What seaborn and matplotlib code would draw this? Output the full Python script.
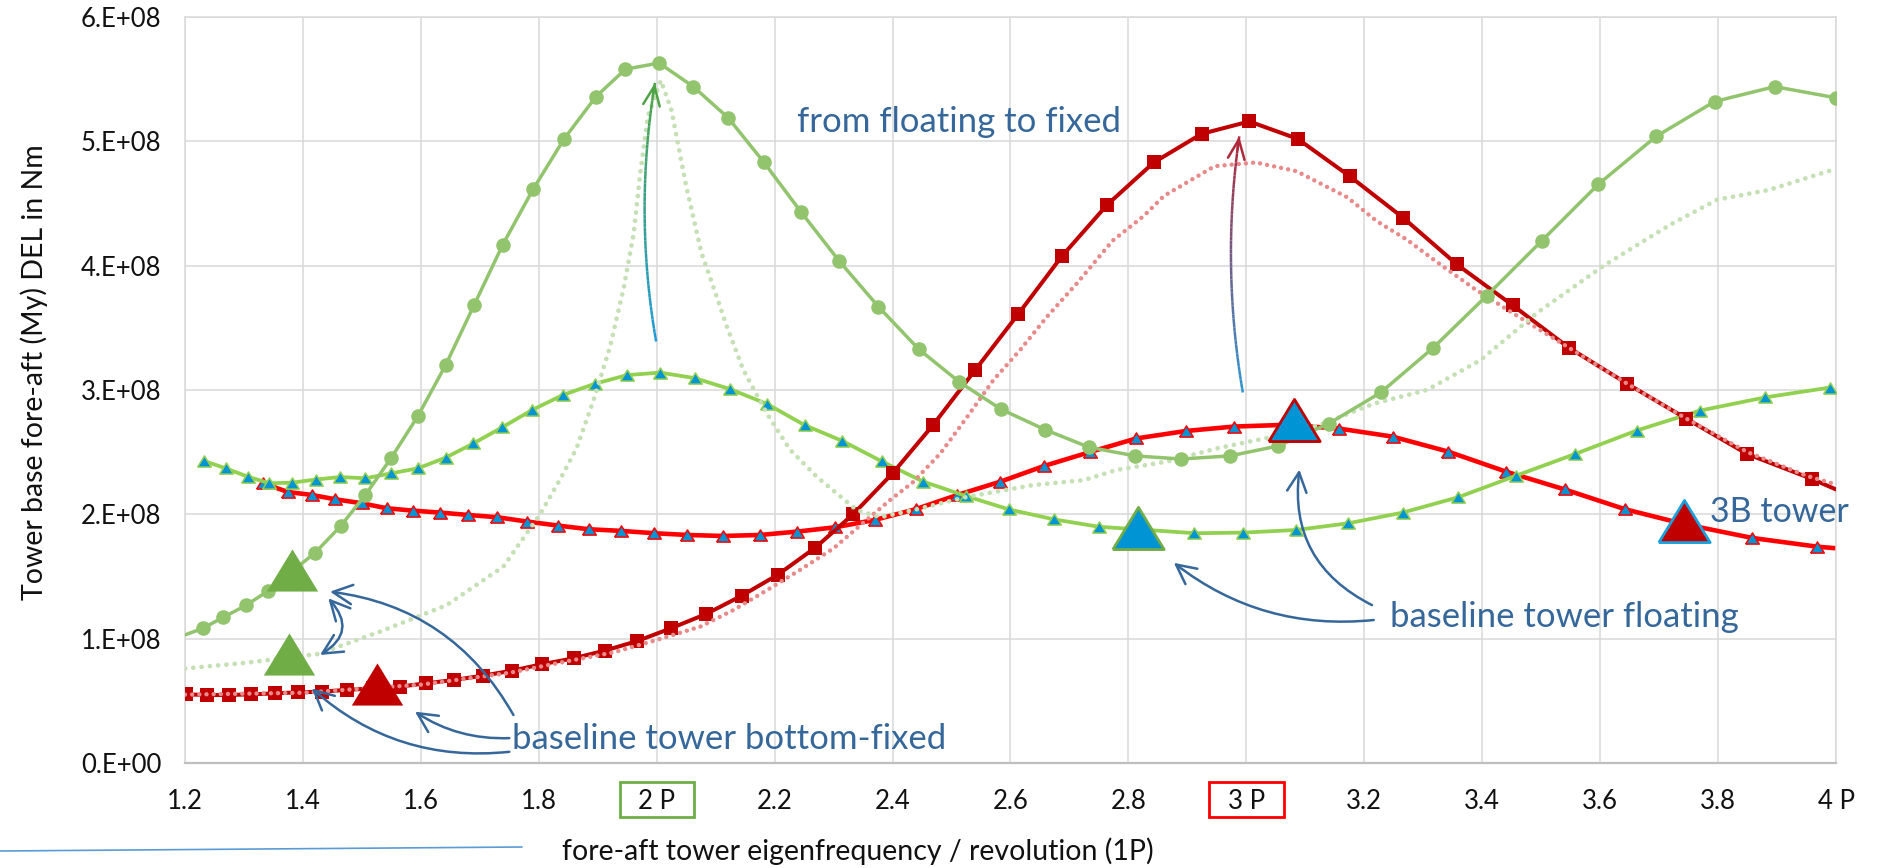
import numpy as np
import matplotlib
matplotlib.use("Agg")
import matplotlib.pyplot as plt
import seaborn as sns
from matplotlib.patches import Rectangle
from matplotlib.collections import LineCollection
from matplotlib.lines import Line2D
import matplotlib.transforms as mtransforms
from matplotlib.colors import to_rgb

# ---------------- data (DEL values in units of 1e8 Nm) ----------------
green_fixed_x = [1.2, 1.230, 1.265, 1.303, 1.341, 1.381, 1.421, 1.464, 1.506, 1.550, 1.595, 1.642,
                 1.690, 1.739, 1.791, 1.843, 1.897, 1.947, 2.004, 2.062, 2.121, 2.182, 2.245, 2.309,
                 2.376, 2.444, 2.513, 2.584, 2.659, 2.733, 2.811, 2.890, 2.972, 3.054, 3.140, 3.228,
                 3.317, 3.408, 3.501, 3.597, 3.695, 3.794, 3.896, 4.0]
green_fixed_y = [1.03, 1.083, 1.172, 1.267, 1.384, 1.54, 1.692, 1.906, 2.156, 2.456, 2.79, 3.20,
                 3.68, 4.17, 4.62, 5.02, 5.36, 5.58, 5.63, 5.44, 5.19, 4.83, 4.43, 4.04,
                 3.67, 3.33, 3.065, 2.845, 2.68, 2.54, 2.47, 2.445, 2.47, 2.55, 2.73, 2.98,
                 3.34, 3.76, 4.20, 4.655, 5.04, 5.32, 5.44, 5.35]

green_float_x = [1.2, 1.305, 1.426, 1.531, 1.644, 1.74, 1.802, 1.836, 1.864, 1.893, 1.921, 1.944,
                 1.961, 1.972, 1.985, 2.007, 2.025, 2.05, 2.076, 2.096, 2.119, 2.147, 2.187, 2.226,
                 2.272, 2.339, 2.379, 2.436, 2.526, 2.639, 2.724, 2.78, 2.865, 2.95, 3.04, 3.125,
                 3.216, 3.306, 3.397, 3.493, 3.606, 3.719, 3.798, 3.887, 4.0]
green_float_y = [0.76, 0.807, 0.877, 1.057, 1.27, 1.58, 2.0, 2.28, 2.53, 2.92, 3.35, 3.82,
                 4.26, 4.74, 5.2, 5.49, 5.25, 4.64, 4.10, 3.83, 3.51, 3.16, 2.81, 2.52,
                 2.30, 2.035, 1.977, 2.035, 2.14, 2.236, 2.275, 2.357, 2.424, 2.53, 2.62, 2.72,
                 2.89, 3.0, 3.24, 3.62, 4.0, 4.33, 4.53, 4.61, 4.78]

green_tri_x = [1.232, 1.269, 1.306, 1.343, 1.382, 1.422, 1.463, 1.506, 1.550, 1.595, 1.642, 1.689,
               1.738, 1.789, 1.841, 1.895, 1.950, 2.006, 2.065, 2.125, 2.187, 2.251, 2.315, 2.382,
               2.452, 2.524, 2.597, 2.673, 2.750, 2.83, 2.912, 2.995, 3.084, 3.173, 3.265, 3.359,
               3.457, 3.558, 3.662, 3.769, 3.879, 3.99]
green_tri_y = [2.43, 2.37, 2.304, 2.25, 2.255, 2.28, 2.30, 2.29, 2.33, 2.37, 2.456, 2.57,
               2.70, 2.84, 2.96, 3.05, 3.12, 3.14, 3.095, 3.006, 2.888, 2.717, 2.59, 2.425,
               2.263, 2.148, 2.04, 1.96, 1.90, 1.875, 1.848, 1.853, 1.874, 1.928, 2.014, 2.137,
               2.31, 2.486, 2.674, 2.834, 2.94, 3.02]

red_fixed_x = [1.202, 1.238, 1.275, 1.312, 1.352, 1.391, 1.432, 1.474, 1.518, 1.564, 1.609, 1.656,
               1.705, 1.755, 1.805, 1.859, 1.912, 1.967, 2.024, 2.084, 2.144, 2.205, 2.269, 2.333,
               2.400, 2.469, 2.540, 2.613, 2.687, 2.764, 2.843, 2.924, 3.005, 3.087, 3.175, 3.266,
               3.357, 3.452, 3.547, 3.646, 3.746, 3.849, 3.959, 4.0]
red_fixed_y = [0.552, 0.547, 0.547, 0.552, 0.560, 0.568, 0.574, 0.588, 0.60, 0.614, 0.641, 0.668,
               0.702, 0.743, 0.794, 0.842, 0.904, 0.981, 1.083, 1.199, 1.345, 1.513, 1.732, 2.00,
               2.33, 2.72, 3.16, 3.61, 4.075, 4.49, 4.83, 5.06, 5.16, 5.02, 4.72, 4.385,
               4.01, 3.68, 3.34, 3.05, 2.77, 2.486, 2.285, 2.20]

red_float_x = [1.2, 1.4, 1.6, 1.75, 1.85, 1.927, 2.0, 2.074, 2.130, 2.187, 2.243, 2.30, 2.356,
               2.396, 2.435, 2.481, 2.526, 2.571, 2.616, 2.662, 2.713, 2.773, 2.826, 2.86, 2.946,
               3.016, 3.085, 3.171, 3.222, 3.272, 3.323, 3.385, 3.448, 3.547, 3.646, 3.746, 3.85,
               3.95, 4.0]
red_float_y = [0.55, 0.565, 0.63, 0.725, 0.82, 0.89, 0.99, 1.097, 1.23, 1.39, 1.553, 1.727, 1.955,
               2.116, 2.26, 2.49, 2.78, 3.08, 3.32, 3.59, 3.86, 4.20, 4.40, 4.56, 4.80,
               4.83, 4.76, 4.55, 4.355, 4.21, 4.03, 3.82, 3.63, 3.34, 3.05, 2.77, 2.5,
               2.31, 2.24]

red_tri_x = [1.333, 1.374, 1.415, 1.455, 1.500, 1.542, 1.586, 1.633, 1.680, 1.729, 1.780, 1.832,
             1.885, 1.939, 1.996, 2.052, 2.112, 2.175, 2.238, 2.303, 2.370, 2.439, 2.510, 2.583,
             2.657, 2.734, 2.813, 2.897, 2.979, 3.068, 3.157, 3.248, 3.342, 3.440, 3.540, 3.643,
             3.744, 3.858, 3.968, 4.0]
red_tri_y = [2.25, 2.18, 2.156, 2.121, 2.089, 2.049, 2.03, 2.014, 1.995, 1.977, 1.942, 1.91,
             1.88, 1.867, 1.848, 1.834, 1.826, 1.834, 1.861, 1.896, 1.955, 2.041, 2.156, 2.263,
             2.389, 2.50, 2.61, 2.67, 2.706, 2.72, 2.69, 2.625, 2.505, 2.344, 2.20, 2.04,
             1.92, 1.81, 1.74, 1.727]

# highlighted design points (large triangles)
hl_x = [1.381, 1.376, 1.525, 2.817, 3.081, 3.743]
hl_y = [1.55, 0.879, 0.638, 1.89, 2.76, 1.95]

x_ticks = [1.2, 1.4, 1.6, 1.8, 2.0, 2.2, 2.4, 2.6, 2.8, 3.0, 3.2, 3.4, 3.6, 3.8, 4.0]
x_ticklabels = ["1.2", "1.4", "1.6", "1.8", "2 P", "2.2", "2.4", "2.6", "2.8", "3 P",
                "3.2", "3.4", "3.6", "3.8", "4 P"]
y_ticks = [0, 1, 2, 3, 4, 5, 6]
y_ticklabels = ["0.E+00", "1.E+08", "2.E+08", "3.E+08", "4.E+08", "5.E+08", "6.E+08"]

# ---------------- style ----------------
sns.set_theme(style="white")
plt.rcParams["font.family"] = ["Lato", "DejaVu Sans"]

GREEN_L = "#92C46E"
GREEN_B = "#92D050"
GREEN_D = "#70AD47"
GREEN_DOT = "#C5E0B4"
RED_D = "#C00000"
RED_B = "#FF0000"
RED_DOT = "#E98A8A"
BLUE = "#0094D4"
ANN = "#35679A"

tri = [(-1, -0.82), (1, -0.82), (0, 0.82), (-1, -0.82)]

fig = plt.figure(figsize=(18.8, 8.68), dpi=100)
ax = fig.add_axes([185 / 1880, 1 - 763 / 868, (1836 - 185) / 1880, (763 - 17) / 868])

# red triangles series
sns.lineplot(x=red_tri_x, y=red_tri_y, ax=ax, color=RED_B, lw=3.3, marker=tri, ms=9.8,
             markerfacecolor=BLUE, markeredgecolor=RED_B, markeredgewidth=1.1,
             markevery=list(range(len(red_tri_x) - 1)), zorder=2)
# green triangles series
sns.lineplot(x=green_tri_x, y=green_tri_y, ax=ax, color=GREEN_B, lw=2.7, marker=tri, ms=9.8,
             markerfacecolor=BLUE, markeredgecolor=GREEN_B, markeredgewidth=1.1, zorder=3)
# red squares (fixed)
sns.lineplot(x=red_fixed_x, y=red_fixed_y, ax=ax, color=RED_D, lw=2.9, marker="s", ms=9.6,
             markerfacecolor=RED_D, markeredgecolor=RED_D, markeredgewidth=0,
             markevery=list(range(len(red_fixed_x) - 1)), zorder=4)
# dotted floating curves
sns.lineplot(x=red_float_x, y=red_float_y, ax=ax, color=RED_DOT, lw=3.2,
             linestyle=(0, (0.01, 1.6)), dash_capstyle="round", zorder=5)
sns.lineplot(x=green_float_x, y=green_float_y, ax=ax, color=GREEN_DOT, lw=3.4,
             linestyle=(0, (0.01, 1.75)), dash_capstyle="round", zorder=5)
# green circles (fixed)
sns.lineplot(x=green_fixed_x, y=green_fixed_y, ax=ax, color=GREEN_L, lw=2.5, marker="o", ms=10.5,
             markerfacecolor=GREEN_L, markeredgecolor=GREEN_L, markeredgewidth=0,
             markevery=list(range(1, len(green_fixed_x))), zorder=6)

# big highlighted markers
big_styles = [
    dict(mfc=GREEN_D, mec=GREEN_D, mew=0),
    dict(mfc=GREEN_D, mec=GREEN_D, mew=0),
    dict(mfc=RED_D, mec=RED_D, mew=0),
    dict(mfc=BLUE, mec=GREEN_D, mew=2.0),
    dict(mfc=BLUE, mec=RED_D, mew=2.0),
    dict(mfc=RED_D, mec="#1AA0DA", mew=2.0),
]
for xv, yv, st in zip(hl_x, hl_y, big_styles):
    ax.plot([xv], [yv], marker=tri, ms=37, ls="none", zorder=7, **st)

# ---------------- axes ----------------
ax.set_xlim(1.2, 4.0)
ax.set_ylim(0, 6)
ax.set_xticks(x_ticks)
ax.set_xticklabels(x_ticklabels)
ax.set_yticks(y_ticks)
ax.set_yticklabels(y_ticklabels)
ax.grid(True, color="#D9D9D9", lw=1.1)
ax.set_axisbelow(True)
for s in ["top", "right", "left"]:
    ax.spines[s].set_color("#D9D9D9")
    ax.spines[s].set_linewidth(1.1)
ax.spines["bottom"].set_color("#BFBFBF")
ax.spines["bottom"].set_linewidth(1.6)
ax.tick_params(axis="both", length=0, labelsize=18.5, colors="#111111")
ax.tick_params(axis="x", pad=19)
ax.tick_params(axis="y", pad=17)

ax.set_xlabel("fore-aft tower eigenfrequency / revolution (1P)", fontsize=20.5, color="#111111")
ax.set_ylabel("Tower base fore-aft (My) DEL in Nm", fontsize=20.5, color="#111111")
ax.xaxis.label.set_va("center")
ax.yaxis.label.set_va("center")
ax.xaxis.set_label_coords(0.4076, -0.118)
ax.yaxis.set_label_coords(-0.0915, 0.524)

# boxes around 2P / 3P tick labels
bt = mtransforms.blended_transform_factory(ax.transData, ax.transAxes)
for xc, col in [(2.0, GREEN_D), (3.0, RED_B)]:
    ax.add_patch(Rectangle((xc - 0.063, -0.0724), 0.126, 0.047, transform=bt, fill=False,
                           ec=col, lw=2.0, clip_on=False))

# ---------------- annotations ----------------
ax.text(2.238, 5.157, "from floating to fixed", fontsize=25, color=ANN, va="center", ha="left")
ax.text(1.754, 0.19, "baseline tower bottom-fixed", fontsize=25, color=ANN, va="center", ha="left")
ax.text(3.244, 1.177, "baseline tower floating", fontsize=25, color=ANN, va="center", ha="left")
ax.text(3.786, 2.02, "3B tower", fontsize=24.5, color=ANN, va="center", ha="left", clip_on=False)

def arrow(tip, start, rad, style="->"):
    ax.annotate("", xy=tip, xytext=start, zorder=8,
                arrowprops=dict(arrowstyle=f"{style},head_length=0.7,head_width=0.35",
                                connectionstyle=f"arc3,rad={rad}", color=ANN, lw=1.8,
                                shrinkA=0, shrinkB=0, mutation_scale=20))

arrow((1.446, 1.378), (1.757, 0.386), 0.25)
arrow((1.415, 0.60), (1.750, 0.09), -0.22)
arrow((1.590, 0.413), (1.750, 0.20), -0.16)
arrow((1.429, 0.869), (1.443, 1.325), -0.6, style="<->")
arrow((2.877, 1.61), (3.216, 1.15), -0.2)
arrow((3.09, 2.36), (3.213, 1.27), -0.35)

def grad_arrow(p0, p2, bulge, c0, c1):
    t = np.linspace(0, 1, 60)
    p1 = ((p0[0] + p2[0]) / 2 + bulge, (p0[1] + p2[1]) / 2)
    xs = (1 - t) ** 2 * p0[0] + 2 * (1 - t) * t * p1[0] + t ** 2 * p2[0]
    ys = (1 - t) ** 2 * p0[1] + 2 * (1 - t) * t * p1[1] + t ** 2 * p2[1]
    pts = np.column_stack([xs, ys]).reshape(-1, 1, 2)
    segs = np.concatenate([pts[:-1], pts[1:]], axis=1)
    a, b = np.array(to_rgb(c0)), np.array(to_rgb(c1))
    cols = [tuple(a + (b - a) * f) for f in np.linspace(0, 1, len(segs))]
    ax.add_collection(LineCollection(segs, colors=cols, linewidths=1.8, zorder=8))
    ax.annotate("", xy=(xs[-1], ys[-1]), xytext=(xs[-4], ys[-4]), zorder=8,
                arrowprops=dict(arrowstyle="->,head_length=0.7,head_width=0.3", color=c1, lw=1.8,
                                shrinkA=0, shrinkB=0, mutation_scale=20))

grad_arrow((1.999, 3.39), (1.997, 5.47), -0.037, "#1E9BD7", "#4EA346")
grad_arrow((2.994, 2.98), (2.988, 5.04), -0.034, "#2E95D3", "#B0283C")

# decorative line at bottom-left of the slide
fig.add_artist(Line2D([0, 522 / 1880], [1 - 851 / 868, 1 - 847 / 868], color="#5B9BD5", lw=1.2,
                      transform=fig.transFigure))

fig.savefig("out.png", dpi=100)
